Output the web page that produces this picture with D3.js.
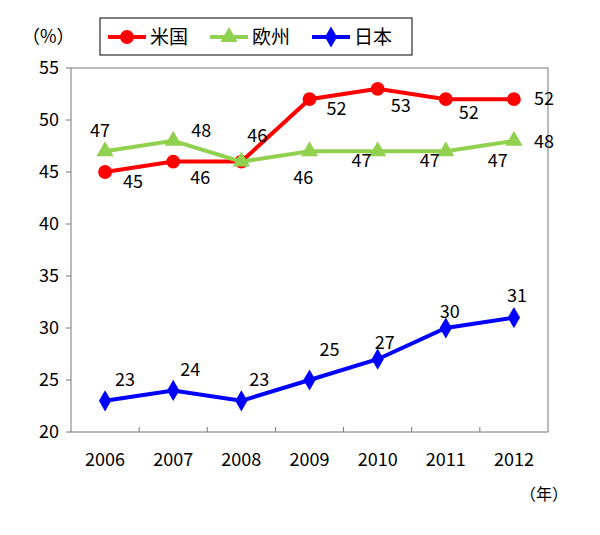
<!DOCTYPE html>
<html><head><meta charset="utf-8">
<script src="https://cdn.jsdelivr.net/npm/d3@7"></script>
<style>body{margin:0;background:#fff}text{font-family:"Noto Sans CJK JP",sans-serif;fill:#000}</style>
</head><body><svg width="600" height="535"></svg>
<script>
const years=["2006","2007","2008","2009","2010","2011","2012"];
const us=[45,46,46,52,53,52,52];
const eu=[47,48,46,47,47,47,48];
const jp=[23,24,23,25,27,30,31];
const yTicks=[20,25,30,35,40,45,50,55];
const seriesNames=["米国","欧州","日本"];
// label offsets (style)
const usOff=[[28,16],[27,22],[16,-20],[27,16],[23,23],[23,20],[30,6]];
const euOff=[[-5,-14],[28,-4],[62,22],[52,16],[52,16],[52,16],[30,7]];
const jpOff=[[20,-15],[17,-14],[18,-15],[20,-24],[7,-10],[4,-10],[3,-16]];
const svg=d3.select("svg");
const L=71,R=548,T=68,B=432;
const x=d3.scaleBand().domain(years).range([L,R]);
const y=d3.scaleLinear().domain([20,55]).range([B,T]);
const cx=d=>x(d)+x.bandwidth()/2;
svg.append("rect").attr("x",L).attr("y",T).attr("width",R-L).attr("height",B-T).attr("fill","none").attr("stroke","#777");
svg.append("g").selectAll("line").data(yTicks).join("line").attr("x1",L-5).attr("x2",L).attr("y1",d=>y(d)).attr("y2",d=>y(d)).attr("stroke","#777");
svg.append("g").selectAll("line").data(years.slice(1)).join("line").attr("x1",d=>x(d)).attr("x2",d=>x(d)).attr("y1",B).attr("y2",B-5).attr("stroke","#777");
svg.append("g").selectAll("text").data(yTicks).join("text").attr("x",L-12).attr("y",d=>y(d)+6).attr("text-anchor","end").attr("font-size",18).text(d=>d);
svg.append("g").selectAll("text").data(years).join("text").attr("x",cx).attr("y",B+34).attr("text-anchor","middle").attr("font-size",18).text(d=>d);
svg.append("text").attr("x",22).attr("y",43).attr("font-size",18).text("（%）");
svg.append("text").attr("x",520).attr("y",500).attr("font-size",16).text("（年）");
const series=[{v:us,c:"#ff0000",m:"circle",o:usOff},{v:eu,c:"#92d050",m:"triangle",o:euOff},{v:jp,c:"#0000ff",m:"diamond",o:jpOff}];
const sym={circle:d3.symbolCircle,triangle:d3.symbolTriangle,diamond:d3.symbolDiamond};
const size={circle:150,triangle:130,diamond:130};
series.forEach(s=>{
  const pts=years.map((yr,i)=>[cx(yr),y(s.v[i])]);
  svg.append("path").attr("d",d3.line()(pts)).attr("fill","none").attr("stroke",s.c).attr("stroke-width",4);
  svg.append("g").selectAll("path").data(pts).join("path").attr("transform",p=>`translate(${p[0]},${p[1]})`).attr("d",d3.symbol(sym[s.m],size[s.m])).attr("fill",s.c);
  svg.append("g").selectAll("text").data(s.v).join("text").attr("x",(d,i)=>pts[i][0]+s.o[i][0]).attr("y",(d,i)=>pts[i][1]+s.o[i][1]).attr("text-anchor","middle").attr("font-size",18).text(d=>d);
});
// legend
svg.append("rect").attr("x",100).attr("y",18).attr("width",312).attr("height",37).attr("fill","#fff").attr("stroke","#000");
series.forEach((s,i)=>{
  const lx=108+i*102, ly=37;
  svg.append("line").attr("x1",lx).attr("x2",lx+38).attr("y1",ly).attr("y2",ly).attr("stroke",s.c).attr("stroke-width",4);
  svg.append("path").attr("transform",`translate(${lx+19},${ly})`).attr("d",d3.symbol(sym[s.m],size[s.m])).attr("fill",s.c);
  svg.append("text").attr("x",lx+42).attr("y",ly+7).attr("font-size",19).text(seriesNames[i]);
});
</script></body></html>
